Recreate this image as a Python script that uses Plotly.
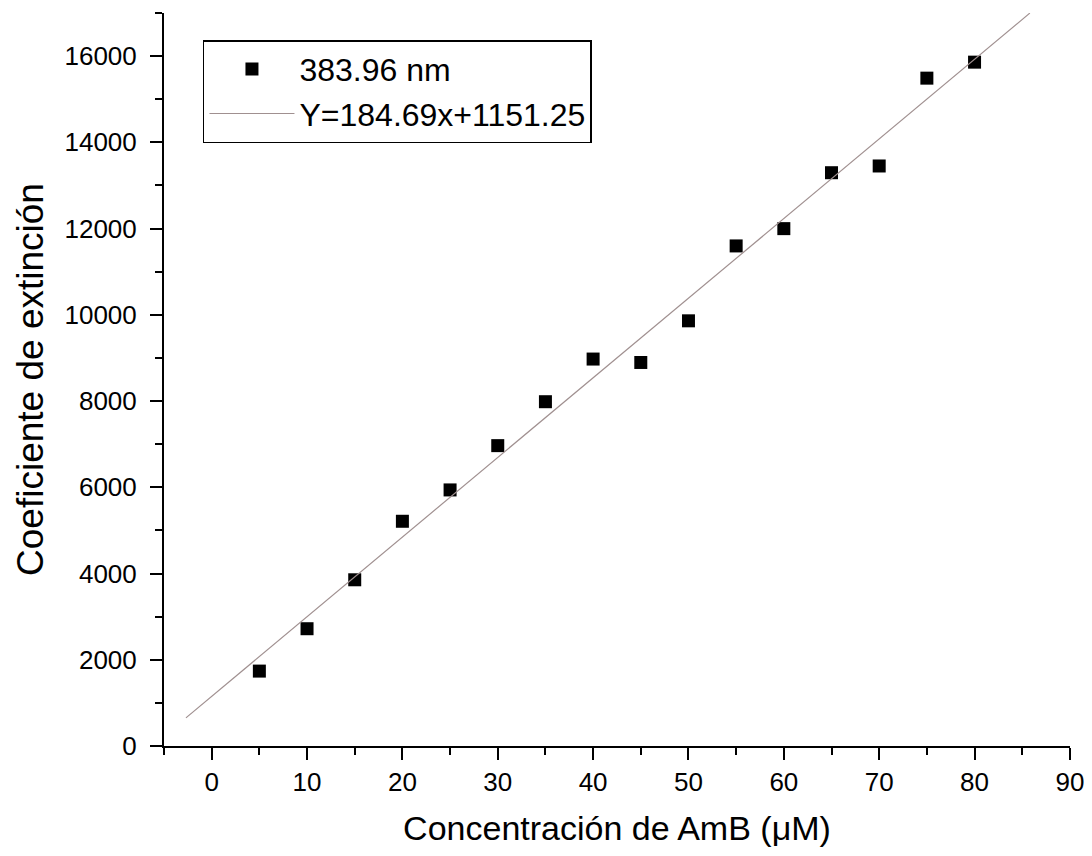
import plotly.graph_objects as go

# Data
conc = [5, 10, 15, 20, 25, 30, 35, 40, 45, 50, 55, 60, 65, 70, 75, 80]
coef = [1737, 2720, 3855, 5212, 5939, 6966, 7985, 8974, 8895, 9861,
        11598, 11999, 13296, 13452, 15489, 15860]
slope = 184.69
intercept = 1151.25
fit_x = [-2.7, 85.8]
fit_y = [slope * v + intercept for v in fit_x]

series_name = "383.96 nm"
fit_name = "Y=184.69x+1151.25"
x_ticks = list(range(0, 100, 10))
y_ticks = list(range(0, 18000, 2000))

FONT = "Liberation Sans, Arial, sans-serif"

fig = go.Figure()
fig.add_trace(go.Scatter(
    x=conc, y=coef, mode="markers", name=series_name,
    marker=dict(symbol="square", size=13, color="black"),
))
fig.add_trace(go.Scatter(
    x=fit_x, y=fit_y, mode="lines", name=fit_name,
    line=dict(color="#a09090", width=1.2),
))

# page body adds an 8px margin, so the figure is sized to fit inside the window
fig.update_layout(
    width=1076, height=840,
    margin=dict(l=156, r=14, t=5, b=102, autoexpand=False),
    paper_bgcolor="white", plot_bgcolor="white",
    font=dict(family=FONT, color="black", size=26),
    legend=dict(
        x=0.043, y=0.963, xanchor="left", yanchor="top",
        bordercolor="black", borderwidth=1.5, bgcolor="white",
        font=dict(size=32, family=FONT),
        itemwidth=85, tracegroupgap=0,
    ),
    showlegend=True,
)

fig.update_xaxes(
    range=[-5, 90.01], tickvals=x_ticks, automargin=False,
    showline=True, linecolor="black", linewidth=2,
    ticks="outside", ticklen=12, tickwidth=2, tickcolor="black",
    minor=dict(dtick=5, tick0=0, ticks="outside", ticklen=7, tickwidth=2, tickcolor="black", showgrid=False),
    showgrid=False, zeroline=False, mirror=False,
    tickfont=dict(size=26), ticklabeloverflow="allow",
    title=dict(text="Concentración de AmB (μM)", font=dict(size=34), standoff=20),
)
fig.update_yaxes(
    range=[0, 17000], tickvals=y_ticks, tickformat="d", automargin=False,
    showline=True, linecolor="black", linewidth=2,
    ticks="outside", ticklen=12, tickwidth=2, tickcolor="black",
    minor=dict(dtick=1000, tick0=0, ticks="outside", ticklen=7, tickwidth=2, tickcolor="black", showgrid=False),
    showgrid=False, zeroline=False, mirror=False,
    tickfont=dict(size=26), ticklabelstandoff=8, ticklabeloverflow="allow",
    title=dict(text="Coeficiente de extinción", font=dict(size=37), standoff=10),
)

fig.write_html("out.html")
